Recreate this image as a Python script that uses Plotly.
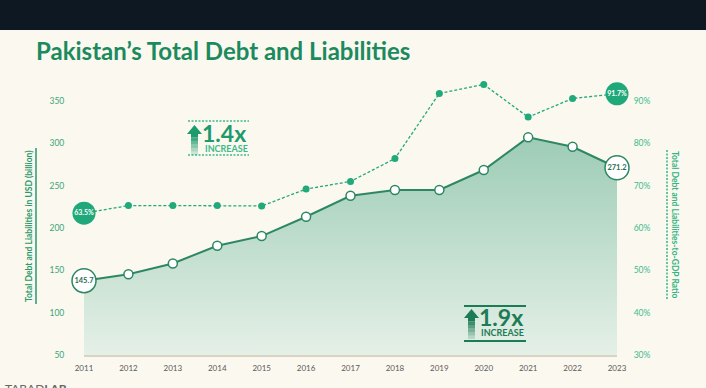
import plotly.graph_objects as go

# ---------------- data ----------------
years = [2011, 2012, 2013, 2014, 2015, 2016, 2017, 2018, 2019, 2020, 2021, 2022, 2023]
debt_usd_bn = [137.8, 145.3, 158.1, 179.1, 190.5, 213.3, 238.1, 244.9, 244.9, 268.5, 307.1, 296.0, 271.2]
debt_to_gdp_pct = [63.5, 65.3, 65.3, 65.3, 65.2, 69.2, 71.0, 76.4, 91.8, 93.9, 86.2, 90.6, 91.7]
debt_end_labels = ["145.7", "271.2"]
ratio_end_labels = ["63.5%", "91.7%"]
left_ticks = [50, 100, 150, 200, 250, 300, 350]
right_ticks = [30, 40, 50, 60, 70, 80, 90]
right_tick_labels = ["30%", "40%", "50%", "60%", "70%", "80%", "90%"]
title_text = "Pakistan’s Total Debt and Liabilities"
left_title = "Total Debt and Liabilities in USD (billion)"
right_title = "Total Debt and Liabilities-to-GDP Ratio"

# ---------------- layout geometry ----------------
W, H = 706, 388
L, R, T, B = 84, 89, 70, 33
PW, PH = W - L - R, H - T - B
left_px_per_unit = 42.33 / 50
right_px_per_unit = 42.33 / 10
y_range = [50, 50 + PH / left_px_per_unit]
y2_range = [30, 30 + PH / right_px_per_unit]


def px(x):
    return (x - L) / PW


def py(y):
    return (H - B - y) / PH


BG = "#fbf8ef"
GREEN = "#22a97b"
DARK = "#2e8763"
FONT = "Lato"

fig = go.Figure()

# area + debt line
fig.add_trace(go.Scatter(
    x=years, y=debt_usd_bn, mode="lines", fill="tozeroy",
    line=dict(color=DARK, width=2),
    fillgradient=dict(type="vertical", start=50, stop=max(debt_usd_bn),
                      colorscale=[[0, "#e5f0e7"], [1, "#9dccb6"]]),
    hoverinfo="skip", showlegend=False, yaxis="y"))
fig.add_trace(go.Scatter(
    x=years[1:-1], y=debt_usd_bn[1:-1], mode="markers",
    marker=dict(size=9, color="white", line=dict(color=DARK, width=1.5)),
    cliponaxis=False, showlegend=False, yaxis="y"))
fig.add_trace(go.Scatter(
    x=[years[0], years[-1]], y=[debt_usd_bn[0], debt_usd_bn[-1]], mode="markers+text",
    marker=dict(size=24, color="white", line=dict(color=DARK, width=1.5)),
    text=debt_end_labels, textposition="middle center",
    textfont=dict(family=FONT, size=7.5, color="#2c6e52", weight="bold"),
    cliponaxis=False, showlegend=False, yaxis="y"))

# ratio line
fig.add_trace(go.Scatter(
    x=years, y=debt_to_gdp_pct, mode="lines+markers",
    line=dict(color=GREEN, width=1.3, dash="3px,2px"),
    marker=dict(size=7, color=GREEN),
    cliponaxis=False, showlegend=False, yaxis="y2"))
fig.add_trace(go.Scatter(
    x=[years[0], years[-1]], y=[debt_to_gdp_pct[0], debt_to_gdp_pct[-1]], mode="markers+text",
    marker=dict(size=23, color="#1fa87a"),
    text=ratio_end_labels, textposition="middle center",
    textfont=dict(family=FONT, size=7, color="white", weight="bold"),
    cliponaxis=False, showlegend=False, yaxis="y2"))

shapes = []
# dark top bar
shapes.append(dict(type="rect", xref="paper", yref="paper", x0=px(0), x1=px(W), y0=py(0), y1=py(30),
                   fillcolor="#0e1822", line=dict(width=0), layer="below"))
# axis title lines
shapes.append(dict(type="line", xref="paper", yref="paper", x0=px(36), x1=px(36), y0=py(148), y1=py(304),
                   line=dict(color="#2a9a6c", width=1.5)))
shapes.append(dict(type="line", xref="paper", yref="paper", x0=px(667), x1=px(667), y0=py(150), y1=py(300),
                   line=dict(color="#33b585", width=1.5, dash="2px,1.5px")))
# 1.4x box lines
for yy in (121, 155):
    shapes.append(dict(type="line", xref="paper", yref="paper", x0=px(188), x1=px(249), y0=py(yy), y1=py(yy),
                       line=dict(color="#3cb98b", width=1.3, dash="2px,1.5px")))
# 1.9x box lines
for yy in (306, 341):
    shapes.append(dict(type="line", xref="paper", yref="paper", x0=px(464), x1=px(526), y0=py(yy), y1=py(yy),
                       line=dict(color="#1d7b56", width=1.8)))


def arrow(x0, y0, color):
    # up arrow: head + fading shaft, pixel box starting at x0 (left), y0 (top)
    out = []
    hx, hw, hh = x0 + 7.5, 7.5, 9
    path = (f"M {px(hx)} {py(y0)} L {px(hx + hw)} {py(y0 + hh)} "
            f"L {px(hx - hw)} {py(y0 + hh)} Z")
    out.append(dict(type="path", xref="paper", yref="paper", path=path, fillcolor=color,
                    line=dict(width=0)))
    seg = 3.5
    for i in range(6):
        out.append(dict(type="rect", xref="paper", yref="paper",
                        x0=px(hx - 3.5), x1=px(hx + 3.5),
                        y0=py(y0 + hh + i * seg), y1=py(y0 + hh + (i + 1) * seg),
                        fillcolor=color, opacity=1 - i * 0.16, line=dict(width=0)))
    return out


shapes += arrow(187, 125, "#1f9a6c")
shapes += arrow(464, 309, "#1d7b56")

annotations = []
annotations.append(dict(xref="paper", yref="paper", x=px(34), y=py(50), xanchor="left", yanchor="middle",
                        text=f"<b>{title_text}</b>", showarrow=False,
                        font=dict(family=FONT, size=24, color="#1b8a5e")))
annotations.append(dict(xref="paper", yref="paper", x=px(29), y=py(226), xanchor="center", yanchor="middle",
                        text=f"<b>{left_title}</b>", textangle=-90, showarrow=False,
                        font=dict(family=FONT, size=8.5, color="#2a9a6c")))
annotations.append(dict(xref="paper", yref="paper", x=px(675), y=py(225), xanchor="center", yanchor="middle",
                        text=f"<b>{right_title}</b>", textangle=90, showarrow=False,
                        font=dict(family=FONT, size=8.5, color="#33b585")))
annotations.append(dict(xref="paper", yref="paper", x=px(200), y=py(132.5), xanchor="left", yanchor="middle",
                        text="<b>1.4x</b>", showarrow=False,
                        font=dict(family=FONT, size=23, color="#1f9a6c")))
annotations.append(dict(xref="paper", yref="paper", x=px(203), y=py(148.5), xanchor="left", yanchor="middle",
                        text="<b>INCREASE</b>", showarrow=False,
                        font=dict(family=FONT, size=9, color="#3cb98b")))
annotations.append(dict(xref="paper", yref="paper", x=px(477), y=py(316.5), xanchor="left", yanchor="middle",
                        text="<b>1.9x</b>", showarrow=False,
                        font=dict(family=FONT, size=23, color="#1d7b56")))
annotations.append(dict(xref="paper", yref="paper", x=px(479), y=py(332.5), xanchor="left", yanchor="middle",
                        text="<b>INCREASE</b>", showarrow=False,
                        font=dict(family=FONT, size=9, color="#1d7b56")))
annotations.append(dict(xref="paper", yref="paper", x=px(3), y=py(388), xanchor="left", yanchor="middle",
                        text="TABAD<b>LAB</b>", showarrow=False,
                        font=dict(family=FONT, size=12, color="#666666")))

fig.update_layout(
    width=W, height=H,
    margin=dict(l=L, r=R, t=T, b=B),
    paper_bgcolor=BG, plot_bgcolor=BG,
    shapes=shapes, annotations=annotations,
    xaxis=dict(range=[years[0], years[-1]], tickvals=years, showgrid=False, zeroline=False,
               showline=True, linecolor="#d8d3c3", linewidth=2,
               ticks="outside", ticklen=4, tickcolor="rgba(0,0,0,0)",
               tickfont=dict(family=FONT, size=8, color="#5a5a5a")),
    yaxis=dict(range=y_range, tickvals=left_ticks, showgrid=False, zeroline=False,
               ticks="outside", ticklen=17, tickcolor="rgba(0,0,0,0)",
               tickfont=dict(family=FONT, size=8.5, color="#3aa57c")),
    yaxis2=dict(range=y2_range, tickvals=right_ticks, ticktext=right_tick_labels,
                overlaying="y", side="right",
                showgrid=False, zeroline=False,
                ticks="outside", ticklen=14, tickcolor="rgba(0,0,0,0)",
                tickfont=dict(family=FONT, size=8.5, color="#3dbb8d")),
)

fig.write_html("out.html", config={"displayModeBar": False},
               post_script="document.body.style.margin='0';document.body.style.background='#fbf8ef';")
